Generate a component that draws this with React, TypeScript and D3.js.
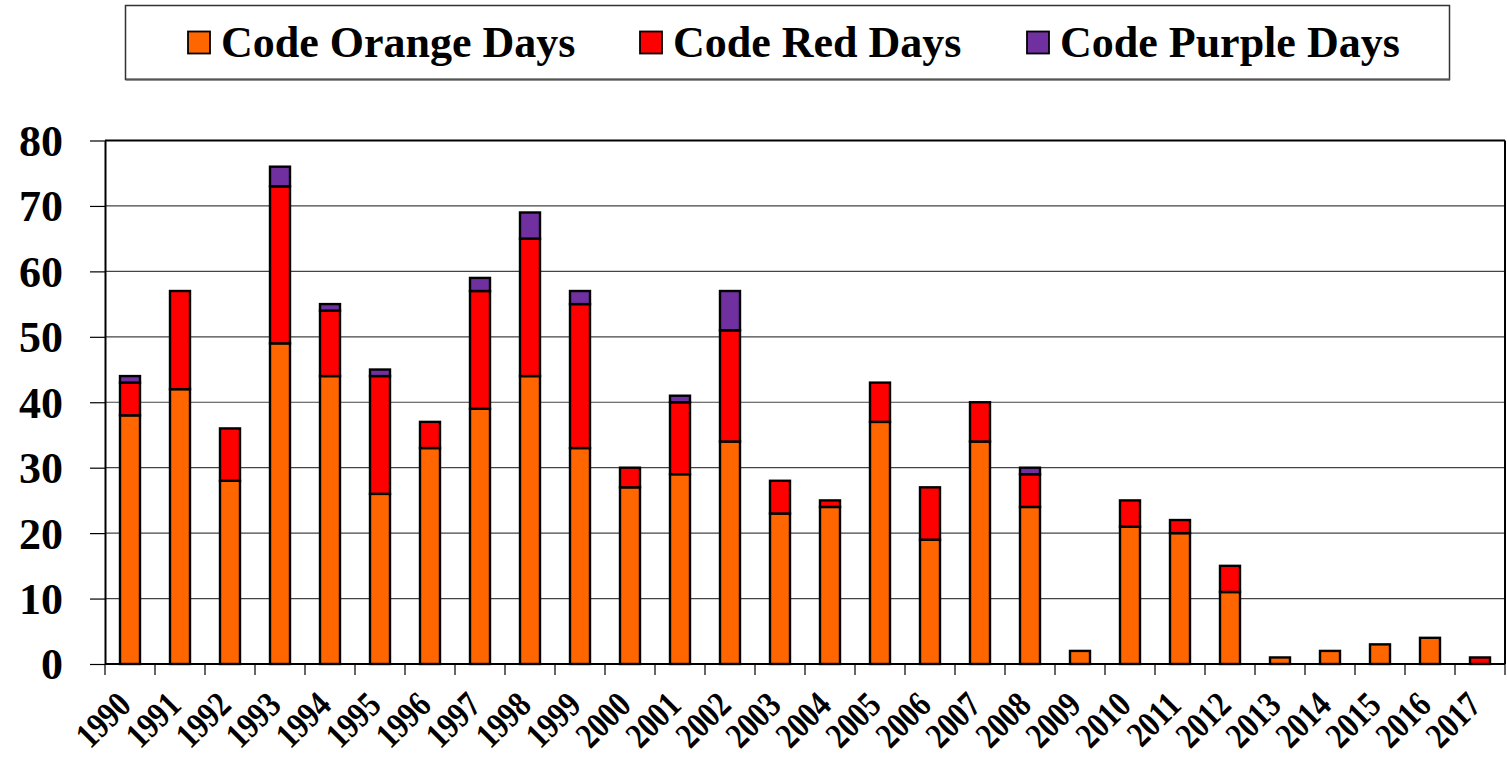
// App.tsx

import React, { useEffect, useRef } from "react";
import * as d3 from "d3";

const years = [
  "1990", "1991", "1992", "1993", "1994", "1995", "1996", "1997", "1998", "1999",
  "2000", "2001", "2002", "2003", "2004", "2005", "2006", "2007", "2008", "2009",
  "2010", "2011", "2012", "2013", "2014", "2015", "2016", "2017",
];
const orangeDays = [38, 42, 28, 49, 44, 26, 33, 39, 44, 33, 27, 29, 34, 23, 24, 37, 19, 34, 24, 2, 21, 20, 11, 1, 2, 3, 4, 0];
const redDays = [5, 15, 8, 24, 10, 18, 4, 18, 21, 22, 3, 11, 17, 5, 1, 6, 8, 6, 5, 0, 4, 2, 4, 0, 0, 0, 0, 1];
const purpleDays = [1, 0, 0, 3, 1, 1, 0, 2, 4, 2, 0, 1, 6, 0, 0, 0, 0, 0, 1, 0, 0, 0, 0, 0, 0, 0, 0, 0];
const yTicks = [0, 10, 20, 30, 40, 50, 60, 70, 80];

const seriesNames = ["Code Orange Days", "Code Red Days", "Code Purple Days"];
const seriesColors = ["#FF6600", "#FF0000", "#7030A0"];

const App: React.FC = () => {
  const ref = useRef<SVGSVGElement>(null);

  useEffect(() => {
    const svg = d3.select(ref.current);
    svg.selectAll("*").remove();

    const font = "'Liberation Serif', 'Times New Roman', serif";
    const left = 105;
    const right = 1505;
    const top = 140.5;
    const bottom = 664;

    const x = d3.scaleBand().domain(years).range([left, right]).paddingInner(0.6).paddingOuter(0.3);
    const y = d3.scaleLinear().domain([0, 80]).range([bottom, top]);

    // gridlines
    svg
      .append("g")
      .selectAll("line")
      .data(yTicks.filter((t) => t > 0))
      .enter()
      .append("line")
      .attr("x1", left)
      .attr("x2", right)
      .attr("y1", (d) => y(d))
      .attr("y2", (d) => y(d))
      .attr("stroke", (d) => (d === 80 ? "#000" : "#444"))
      .attr("stroke-width", (d) => (d === 80 ? 2 : 1.2));

    // right border
    svg
      .append("line")
      .attr("x1", right)
      .attr("x2", right)
      .attr("y1", top)
      .attr("y2", bottom)
      .attr("stroke", "#000")
      .attr("stroke-width", 2);

    // stacked bars
    const rows = years.map((yr, i) => ({
      year: yr,
      orange: orangeDays[i],
      red: redDays[i],
      purple: purpleDays[i],
    }));
    const keys = ["orange", "red", "purple"];
    const stacked = d3.stack<any>().keys(keys)(rows);

    stacked.forEach((layer, li) => {
      svg
        .append("g")
        .selectAll("rect")
        .data(layer.filter((d) => d[1] - d[0] > 0))
        .enter()
        .append("rect")
        .attr("x", (d: any) => x(d.data.year) as number)
        .attr("width", x.bandwidth())
        .attr("y", (d) => y(d[1]))
        .attr("height", (d) => y(d[0]) - y(d[1]))
        .attr("fill", seriesColors[li])
        .attr("stroke", "#000")
        .attr("stroke-width", 2.4);
    });

    // y axis
    const yAxis = svg
      .append("g")
      .attr("transform", `translate(${left},0)`)
      .call(d3.axisLeft(y).tickValues(yTicks).tickSize(15).tickPadding(27).tickSizeOuter(0));
    yAxis.select(".domain").attr("stroke", "#000").attr("stroke-width", 2);
    yAxis.selectAll(".tick line").attr("stroke", "#000").attr("stroke-width", 1.2);
    yAxis
      .selectAll("text")
      .attr("font-family", font)
      .attr("font-weight", "bold")
      .attr("font-size", 44)
      .attr("fill", "#000")
      .attr("dy", "0.34em");

    // x axis
    const boundaries = d3.range(years.length + 1).map((i) => left + i * x.step());
    svg
      .append("line")
      .attr("x1", left)
      .attr("x2", right)
      .attr("y1", bottom)
      .attr("y2", bottom)
      .attr("stroke", "#000")
      .attr("stroke-width", 2.2);
    svg
      .append("g")
      .selectAll("line")
      .data(boundaries)
      .enter()
      .append("line")
      .attr("x1", (d) => d)
      .attr("x2", (d) => d)
      .attr("y1", bottom)
      .attr("y2", bottom + 11)
      .attr("stroke", "#000")
      .attr("stroke-width", 1.2);

    // year labels: narrow, tall glyphs like the original
    svg
      .append("g")
      .selectAll("text")
      .data(years)
      .enter()
      .append("text")
      .attr("transform", (d) => {
        const cx = (x(d) as number) + x.bandwidth() / 2 + 3;
        return `translate(${cx},${bottom + 43}) rotate(-45) scale(0.84,1)`;
      })
      .attr("text-anchor", "end")
      .attr("font-family", font)
      .attr("font-weight", "bold")
      .attr("font-size", 36)
      .attr("fill", "#000")
      .text((d) => d);

    // legend
    const legend = svg.append("g");
    legend
      .append("rect")
      .attr("x", 125.5)
      .attr("y", 5.5)
      .attr("width", 1324)
      .attr("height", 74)
      .attr("fill", "#fff")
      .attr("stroke", "#333")
      .attr("stroke-width", 1.5);
    legend
      .append("line")
      .attr("x1", 126)
      .attr("x2", 1450)
      .attr("y1", 79.5)
      .attr("y2", 79.5)
      .attr("stroke", "#555")
      .attr("stroke-width", 2);

    const legendX = [188, 640, 1027];
    seriesNames.forEach((name, i) => {
      legend
        .append("rect")
        .attr("x", legendX[i])
        .attr("y", 31.5)
        .attr("width", 22)
        .attr("height", 22)
        .attr("fill", seriesColors[i])
        .attr("stroke", "#000")
        .attr("stroke-width", 1.8);
      legend
        .append("text")
        .attr("x", legendX[i] + 33)
        .attr("y", 57)
        .attr("font-family", font)
        .attr("font-weight", "bold")
        .attr("font-size", 44)
        .attr("fill", "#000")
        .text(name);
    });
  }, []);

  return (
    <svg
      ref={ref}
      width={1507}
      height={762}
      style={{ position: "absolute", left: 0, top: 0, background: "#fff" }}
    ></svg>
  );
};

export default App;
